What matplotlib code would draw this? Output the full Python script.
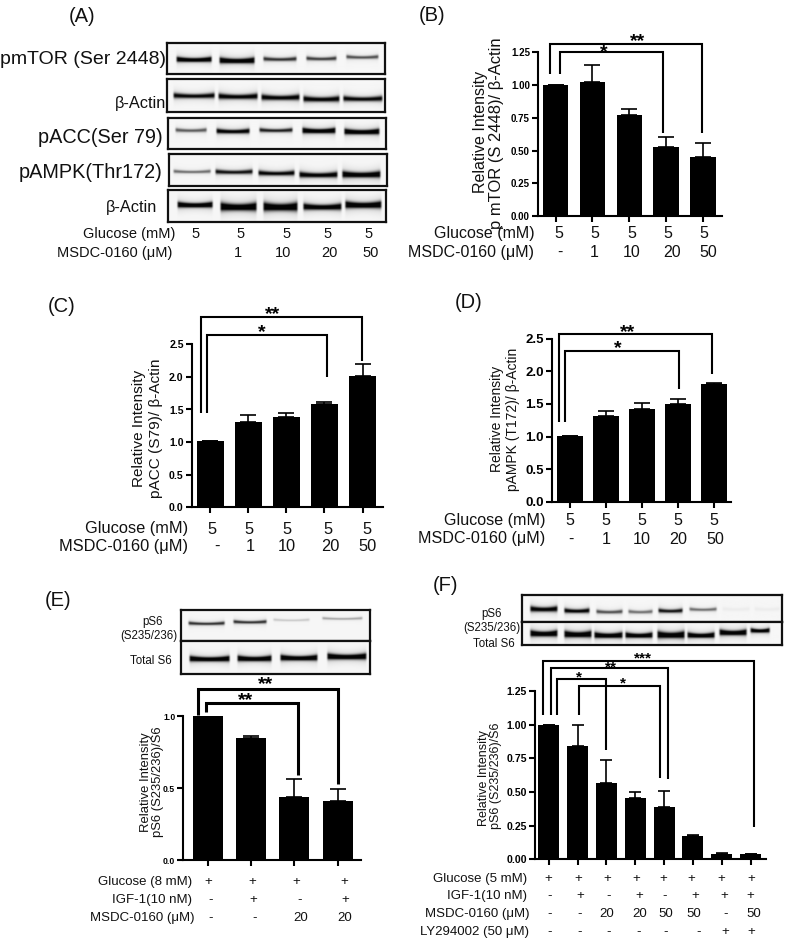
import numpy as np
import matplotlib
matplotlib.use("Agg")
import matplotlib.pyplot as plt
from matplotlib.lines import Line2D
from matplotlib.transforms import Affine2D

W, H = 787, 943
plt.rcParams['font.family'] = ['Liberation Sans', 'DejaVu Sans']
fig = plt.figure(figsize=(W / 100, H / 100), dpi=100, facecolor='white')
PX = Affine2D().scale(1, -1).translate(0, H)

# ---------- data ----------
b_vals = [1.00, 1.02, 0.775, 0.53, 0.45]
b_errs = [0.0, 0.13, 0.045, 0.07, 0.11]
c_vals = [1.01, 1.31, 1.38, 1.59, 2.02]
c_errs = [0.0, 0.10, 0.06, 0.03, 0.18]
d_vals = [1.01, 1.31, 1.42, 1.50, 1.80]
d_errs = [0.0, 0.08, 0.10, 0.07, 0.02]
e_vals = [1.00, 0.85, 0.435, 0.41]
e_errs = [0.0, 0.008, 0.125, 0.08]
f_vals = [1.00, 0.84, 0.57, 0.455, 0.385, 0.175, 0.04, 0.04]
f_errs = [0.0, 0.16, 0.17, 0.045, 0.12, 0.003, 0.005, 0.003]

ticks_b = ['0.00', '0.25', '0.50', '0.75', '1.00', '1.25']
ticks_cd = ['0.0', '0.5', '1.0', '1.5', '2.0', '2.5']
ticks_e = ['0.0', '0.5', '1.0']

glucose_5 = ['5', '5', '5', '5', '5']
msdc_a = ['', '1', '10', '20', '50']
msdc_bcd = ['-', '1', '10', '20', '50']
e_glucose = ['+', '+', '+', '+']
e_igf = ['-', '+', '-', '+']
e_msdc = ['-', '-', '20', '20']
f_glucose = ['+'] * 8
f_igf = ['-', '+', '-', '+', '-', '+', '+', '+']
f_msdc = ['-', '-', '20', '20', '50', '50', '-', '50']
f_ly = ['-', '-', '-', '-', '-', '-', '+', '+']

# blot band darkness per lane
a_pmtor = [1.0, 1.0, 0.62, 0.58, 0.52]
a_actin1 = [0.78, 0.82, 0.82, 0.82, 0.78]
a_pacc = [0.48, 0.85, 0.68, 1.0, 1.0]
a_pampk = [0.42, 0.72, 0.78, 0.85, 0.95]
a_actin2 = [1.0, 1.0, 1.0, 0.92, 1.0]
e_ps6 = [0.62, 0.62, 0.14, 0.25]
e_s6 = [1.0, 1.0, 1.0, 1.0]
f_ps6 = [0.85, 0.8, 0.52, 0.42, 0.72, 0.42, 0.03, 0.03]
f_s6 = [1.0, 1.0, 1.0, 1.0, 1.0, 1.0, 1.0, 0.95]


# ---------- helpers ----------
def txt(x, y, s, size=10.5, ha='center', va='center', **kw):
    if kw.get('rotation') == 90:
        x += 1
    else:
        y += 1.3
    return fig.text(x, y, s, transform=PX, fontsize=size, ha=ha, va=va,
                    color='#111111', **kw)


def line(xs, ys, lw=1.5):
    fig.add_artist(Line2D(xs, ys, transform=PX, color='black', lw=lw,
                          solid_capstyle='butt', solid_joinstyle='miter'))


def star(x, y, s, size=14):
    fig.text(x, y + 0.38 * size / 0.72, s, transform=PX, fontsize=size,
             ha='center', va='baseline', fontweight='bold', color='black')


def bracket(xl, xr, top, yl, yr, lw=1.5):
    line([xl, xl, xr, xr], [yl, top, top, yr], lw)


def blot(box, strips, border=1.6):
    """box: x0,x1,y0,y1 px; strips: list of bands (x0,x1,y,halfh,dark) px."""
    x0, x1, y0, y1 = box
    ax = fig.add_axes([x0 / W, 1 - y1 / H, (x1 - x0) / W, (y1 - y0) / H])
    xs = np.linspace(x0, x1, int((x1 - x0) * 3))
    ys = np.linspace(y0, y1, int((y1 - y0) * 3))
    X, Y = np.meshgrid(xs, ys)
    d = np.zeros_like(X)
    for bx0, bx1, by, hh, dark in strips:
        ex = 3.0
        fx = np.clip((X - bx0 + 1) / ex, 0, 1) * np.clip((bx1 - X + 1) / ex, 0, 1)
        fx = fx * fx * (3 - 2 * fx)
        t = np.abs((X - (bx0 + bx1) / 2) / ((bx1 - bx0) / 2 + 1e-6))
        yy = by - 0.8 * (t ** 2 - 0.4)
        hh2 = hh * (0.85 + 0.3 * t ** 2)
        gy = np.exp(-((Y - yy) / hh2) ** 2)
        halo = 0.14 * np.exp(-((Y - yy) / (hh2 * 2.6)) ** 2)
        d = np.maximum(d, np.clip(dark * (1.2 * gy + halo), 0, 1) * fx)
    img = 0.965 - 0.95 * d
    ax.imshow(img, cmap='gray', vmin=0, vmax=1, aspect='auto',
              extent=[x0, x1, y1, y0], interpolation='bilinear')
    ax.set_xticks([])
    ax.set_yticks([])
    for s in ax.spines.values():
        s.set_linewidth(border)
        s.set_color('#111111')
    return ax


def lanes(darks, spans, ys, hh):
    return [(a, b, y, h, k) for k, (a, b), y, h in
            zip(darks, spans, ys, hh)]


def panel(x0, x1, ytop, ybot, ymax, first, step, width, vals, errs,
          ticks, tick_size, spine=1.5, cap=5.5):
    ax = fig.add_axes([x0 / W, 1 - ybot / H, (x1 - x0) / W, (ybot - ytop) / H])
    ax.patch.set_alpha(0)
    pos = np.arange(len(vals))
    ax.bar(pos, vals, width=width / step, color='black', zorder=2)
    ax.errorbar(pos, vals, yerr=[np.zeros(len(vals)), errs], fmt='none',
                ecolor='black', elinewidth=1.2, capsize=cap, capthick=1.2,
                zorder=1)
    ax.set_xlim((x0 - first) / step, (x1 - first) / step)
    ax.set_ylim(0, ymax)
    ax.set_yticks([float(t) for t in ticks])
    ax.set_yticklabels(ticks, fontweight='bold', fontsize=tick_size)
    ax.set_xticks(pos)
    ax.set_xticklabels([])
    ax.tick_params(axis='both', length=4.3, width=spine, direction='out', pad=1.5)
    for s in ('top', 'right'):
        ax.spines[s].set_visible(False)
    for s in ('left', 'bottom'):
        ax.spines[s].set_linewidth(spine)
    return ax


def row(label, right, y, items, xs, size):
    txt(right, y, label, size=size, ha='right')
    for s, x in zip(items, xs):
        if s:
            txt(x, y, s, size=size)


# ---------- panel A ----------
txt(82, 15, '(A)', size=14.5)
span5_1 = [(176, 212), (219, 255), (263, 297), (306, 337), (346, 379)]
blot((167, 385, 42.7, 74), lanes(a_pmtor, span5_1, [60, 61, 59.5, 59, 57.5],
                                 [2.2, 2.6, 1.9, 1.8, 1.7]))
span5_2 = [(173, 215), (218, 258), (261, 300), (303, 340), (343, 383)]
blot((167, 385, 79.3, 112), lanes(a_actin1, span5_2, [96, 96.7, 97.7, 99.3, 99],
                                  [2.5, 2.7, 2.7, 2.7, 2.5]))
span5_3 = [(175, 207), (216, 250), (259, 293), (302, 336), (344, 380)]
blot((168, 386, 118, 149.3), lanes(a_pacc, span5_3, [131, 132, 131, 131.5, 132.5],
                                   [1.8, 2.2, 1.9, 2.4, 2.5]))
span5_4 = [(173, 211), (215, 253), (258, 295), (299, 338), (342, 381)]
blot((169, 387, 154, 186), lanes(a_pampk, span5_4, [171.7, 172, 173.3, 175, 174.7],
                                 [1.6, 2.2, 2.4, 2.7, 3.0]))
span5_5 = [(177, 213), (220, 257), (263, 298), (303, 342), (345, 382)]
blot((168, 386, 190, 222), lanes(a_actin2, span5_5, [205, 207, 207, 207, 205],
                                 [2.6, 3.8, 4.0, 3.0, 3.2]))
txt(166, 58, 'pmTOR (Ser 2448)', size=14, ha='right')
txt(166, 102, 'β-Actin', size=11.8, ha='right')
txt(163, 136, 'pACC(Ser 79)', size=14.3, ha='right')
txt(163, 171, 'pAMPK(Thr172)', size=14.3, ha='right')
txt(157, 206, 'β-Actin', size=11.8, ha='right')
row('Glucose (mM)', 175, 233, glucose_5, [196, 241, 287, 328, 369], 10.5)
row('MSDC-0160 (μM)', 172, 252, msdc_a, [196, 238, 283, 329, 371], 10.5)

# ---------- panel B ----------
txt(432, 14, '(B)', size=14.5)
panel(538, 722, 52.3, 216, 1.25, 555.5, 36.9, 25.5, b_vals, b_errs, ticks_b, 7)
txt(479, 132, 'Relative Intensity', size=11.5, rotation=90)
txt(495, 133, 'p mTOR (S 2448)/ β-Actin', size=11.9, rotation=90)
bracket(549.7, 701.7, 43.7, 74, 133)
bracket(560.3, 663, 52, 74, 132.7)
star(638, 39, '**')
star(604, 50, '*')
row('Glucose (mM)', 535, 232, glucose_5, [559, 595, 632, 668, 704], 11.5)
row('MSDC-0160 (μM)', 534, 251, msdc_bcd, [560, 594, 632, 672, 708], 11.5)

# ---------- panel C ----------
txt(62, 305, '(C)', size=14.5)
panel(191.7, 383, 344.3, 507.3, 2.5, 210.3, 38.05, 27, c_vals, c_errs, ticks_cd, 7.6)
txt(138, 428, 'Relative Intensity', size=11.1, rotation=90)
txt(155, 428, 'pACC (S79)/ β-Actin', size=11.1, rotation=90)
bracket(201.3, 361.7, 317, 413.3, 361)
bracket(206.7, 327.3, 335, 413.3, 376.7)
star(273, 312, '**')
star(262, 330, '*')
row('Glucose (mM)', 187.7, 527.7, glucose_5, [212, 249, 287, 328, 367], 11.8)
row('MSDC-0160 (μM)', 188, 545, msdc_bcd, [217, 250.7, 287, 330, 368], 11.8)

# ---------- panel D ----------
txt(469, 301.7, '(D)', size=14.5)
panel(552, 731, 338.7, 501.7, 2.5, 569.8, 36.1, 26.3, d_vals, d_errs, ticks_cd, 9.5)
txt(495.7, 419, 'Relative Intensity', size=10, rotation=90)
txt(511.7, 419, 'pAMPK (T172)/ β-Actin', size=10, rotation=90)
bracket(559.3, 712.3, 334.3, 422.3, 374.3)
bracket(565.3, 679.3, 351, 422.3, 389)
star(628, 330, '**')
star(617.7, 346, '*')
row('Glucose (mM)', 545.7, 519, glucose_5, [569.7, 605.7, 642.3, 678.3, 714], 11.6)
row('MSDC-0160 (μM)', 545.7, 537.7, msdc_bcd, [571.3, 606, 641.7, 678.7, 715.3], 11.6)

# ---------- panel E ----------
txt(58, 599, '(E)', size=14.5)
span4_1 = [(188, 225), (233, 267), (273, 310), (322, 363)]
span4_2 = [(189, 230), (237, 272), (280, 318), (327, 367)]
blot((181, 370, 610, 641), lanes(e_ps6, span4_1, [623.5, 622, 620, 618.5],
                                 [1.6, 1.6, 1.2, 1.2]))
blot((181, 370, 641, 674), lanes(e_s6, span4_2, [659, 658.7, 658, 656.7],
                                 [2.5, 2.6, 2.6, 2.8]))
txt(153, 621, 'pS6', size=8.3)
txt(149, 634.5, '(S235/236)', size=8.3)
txt(151, 660, 'Total S6', size=8.3)
panel(183.3, 360.7, 716, 860, 1.0, 207.7, 43.33, 30, e_vals, e_errs, ticks_e, 6.2)
txt(144.5, 782, 'Relative Intensity', size=9.4, rotation=90)
txt(157.5, 782, 'pS6 (S235/236)/S6', size=9.4, rotation=90)
bracket(198.3, 337.7, 689.3, 715, 784.3, lw=2.2)
bracket(205.7, 297.7, 702.7, 711.7, 775, lw=2.2)
star(266, 682, '**')
star(246, 698, '**')
row('Glucose (8 mM)', 191.7, 880.3, e_glucose, [208, 252.7, 296.7, 344], 9.5)
row('IGF-1(10 nM)', 192, 898.3, e_igf, [210.7, 253, 300, 345], 9.5)
row('MSDC-0160 (μM)', 194, 917, e_msdc, [210.7, 255, 300.7, 345], 9.5)

# ---------- panel F ----------
txt(445, 584, '(F)', size=14.5)
span8_1 = [(530, 558), (564, 590), (596, 623), (628, 653), (658, 683), (689, 717),
           (722, 750), (754, 780)]
span8_2 = [(530, 558), (564, 592), (594, 623), (625, 653), (657, 685), (687, 715),
           (719, 747), (750, 770)]
blot((522.3, 781.7, 595, 621.7), lanes(f_ps6, span8_1,
                                       [609, 610.7, 611.7, 611.7, 610.7, 609.3, 609, 609],
                                       [2.6, 2.2, 1.8, 1.7, 2.0, 1.6, 2, 2]))
blot((522.3, 781.7, 621.7, 645), lanes(f_s6, span8_2,
                                       [634, 634.7, 635.7, 635.7, 635.3, 635.7, 633, 631],
                                       [2.8, 3.0, 2.6, 2.4, 3.2, 2.4, 2.6, 2.0]))
txt(491.7, 612.7, 'pS6', size=8.3)
txt(492, 626.7, '(S235/236)', size=8.3)
txt(494, 642.3, 'Total S6', size=8.3)
panel(535, 765.7, 691, 859.3, 1.25, 548.8, 28.82, 21, f_vals, f_errs, ticks_b, 7.6, cap=4.3)
txt(483.3, 778, 'Relative Intensity', size=9, rotation=90)
txt(495, 776, 'pS6 (S235/236)/S6', size=9, rotation=90)
bracket(543, 754, 660.7, 715, 827.3)
bracket(550.7, 667.7, 668.3, 715, 779.3)
bracket(557, 605.7, 679.3, 715, 750)
bracket(578.7, 660, 686, 715, 778.3)
star(643, 656.7, '***', size=11)
star(611, 665.7, '**', size=11)
star(579.3, 675.3, '*', size=11)
star(622.7, 681.3, '*', size=11)


def f_x(zs):
    return [420 + z / 3 for z in zs]


row('Glucose (5 mM)', 527.3, 877.3, f_glucose, f_x([386, 475, 562, 650, 730, 815, 905, 993]), 9.5)
row('IGF-1(10 nM)', 527.3, 894.3, f_igf, f_x([388, 480, 565, 657, 735, 825, 912, 990]), 9.5)
row('MSDC-0160 (μM)', 529.3, 912.3, f_msdc, f_x([390, 480, 560, 660, 737, 822, 918, 1000]), 9.5)
row('LY294002 (50 μM)', 529.3, 930.7, f_ly, f_x([390, 478, 565, 655, 737, 835, 915, 993]), 9.5)

fig.savefig('out.png', dpi=100, facecolor='white')
